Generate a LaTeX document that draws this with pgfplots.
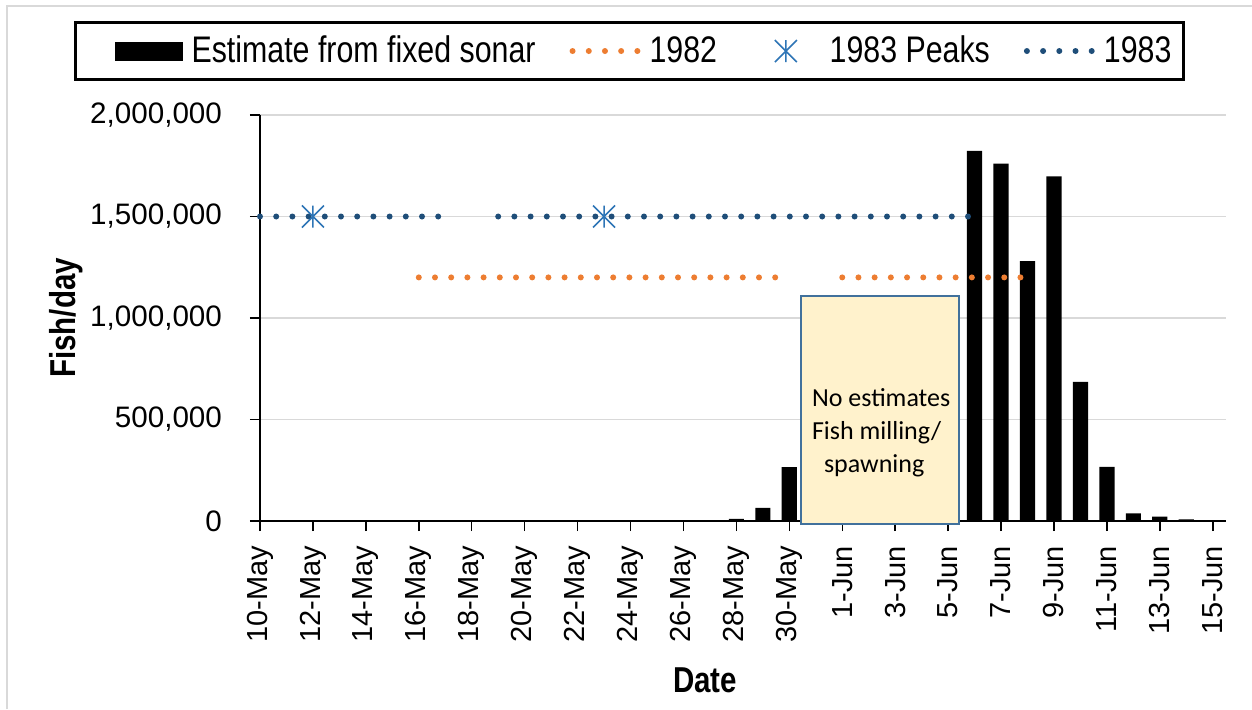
\documentclass[border=0pt]{standalone}
\usepackage{fontspec}
\setmainfont{Liberation Sans}
\newfontfamily\narrowfont[FakeStretch=0.82]{Liberation Sans}
\newfontfamily\calibri{Carlito}
\usepackage{pgfplots}
\usepackage{pgfplotstable}
\pgfplotsset{compat=1.18}

\definecolor{orange82}{RGB}{237,125,49}
\definecolor{navy83}{RGB}{31,78,121}
\definecolor{peakblue}{RGB}{46,117,182}
\definecolor{gridgray}{RGB}{217,217,217}
\definecolor{boxfill}{RGB}{255,242,204}
\definecolor{boxedge}{RGB}{65,113,156}

% Excel-style star: vertical stroke plus an X
\pgfdeclareplotmark{xstar}{%
  \pgfpathmoveto{\pgfqpoint{0pt}{\pgfplotmarksize}}%
  \pgfpathlineto{\pgfqpoint{0pt}{-\pgfplotmarksize}}%
  \pgfpathmoveto{\pgfqpoint{-\pgfplotmarksize}{-\pgfplotmarksize}}%
  \pgfpathlineto{\pgfqpoint{\pgfplotmarksize}{\pgfplotmarksize}}%
  \pgfpathmoveto{\pgfqpoint{-\pgfplotmarksize}{\pgfplotmarksize}}%
  \pgfpathlineto{\pgfqpoint{\pgfplotmarksize}{-\pgfplotmarksize}}%
  \pgfusepathqstroke}

% day 0 = 10-May
\pgfplotstableread{
day fish
18 10000
19 65000
20 265000
27 1823000
28 1761000
29 1280000
30 1698000
31 685000
32 267000
33 38000
34 21000
35 8000
}\sonar

\pgfplotstableread{
day fish
6 1200000
7 1200000
8 1200000
9 1200000
10 1200000
11 1200000
12 1200000
13 1200000
14 1200000
15 1200000
16 1200000
17 1200000
18 1200000
19 1200000
20 1200000
21 nan
22 1200000
23 1200000
24 1200000
25 1200000
26 1200000
27 1200000
28 1200000
29 1200000
}\yrA

\pgfplotstableread{
day fish
0 1500000
1 1500000
2 1500000
3 1500000
4 1500000
5 1500000
6 1500000
7 1500000
8 nan
9 1500000
10 1500000
11 1500000
12 1500000
13 1500000
14 1500000
15 1500000
16 1500000
17 1500000
18 1500000
19 1500000
20 1500000
21 1500000
22 1500000
23 1500000
24 1500000
25 1500000
26 1500000
27 1500000
}\yrB

\tikzset{rounddots/.style={line width=3pt, line cap=round, dash pattern=on 0pt off 8.1pt}}
\pgfplotsset{
  barlegend/.style={legend image code/.code={\path (-16.5pt,0pt);
    \fill[black] (0pt,-4.75pt) rectangle (34pt,4.75pt);}},
  dotlegend/.style={legend image code/.code={\draw[##1] (1.5pt,0pt) -- (34pt,0pt);}},
  starlegend/.style={legend image code/.code={\path (0pt,0pt) (34pt,0pt);
    \draw[mark repeat=2, mark phase=2, ##1] plot coordinates {(0pt,0pt) (17pt,0pt) (34pt,0pt)};}},
}

\begin{document}
\begin{tikzpicture}
\useasboundingbox (-130pt,-94pt) rectangle (496pt,260.5pt);
\draw[gridgray, line width=1pt] (-126.5pt,-94pt) -- (-126.5pt,257.5pt) -- (496pt,257.5pt);
\begin{axis}[
  scale only axis, width=483pt, height=203pt,
  xmin=0, xmax=36.5, ymin=0, ymax=2000000,
  axis x line=bottom, axis y line=left,
  axis line style={-, black, line width=0.75pt},
  xtick={0,2,...,36},
  xticklabels={10-May,12-May,14-May,16-May,18-May,20-May,22-May,24-May,26-May,28-May,30-May,1-Jun,3-Jun,5-Jun,7-Jun,9-Jun,11-Jun,13-Jun,15-Jun},
  ytick={0,500000,1000000,1500000,2000000},
  ymajorgrids, grid style={gridgray, line width=0.75pt},
  tick align=outside, major tick length=5pt,
  tick style={black, line width=0.75pt},
  scaled y ticks=false,
  yticklabel shift=10.5pt,
  yticklabel style={font=\fontsize{14.8pt}{18pt}\selectfont,
    /pgf/number format/fixed, /pgf/number format/1000 sep={,},
    /pgf/number format/assume math mode=true},
  xticklabel shift=4pt,
  xticklabel style={rotate=90, anchor=east, font=\fontsize{14.5pt}{16pt}\selectfont},
  xlabel={Date}, ylabel={Fish/day},
  xlabel style={at={(0.4607,-0.4236)}, anchor=base, font=\narrowfont\bfseries\fontsize{18pt}{20pt}\selectfont},
  ylabel style={at={(-0.1915,0.5)}, anchor=base, font=\narrowfont\bfseries\fontsize{18pt}{20pt}\selectfont},
  clip=false,
  unbounded coords=jump,
  legend columns=4,
  legend style={at={(0.3825,1.1576)}, anchor=center, draw=black, line width=1.5pt,
    font=\narrowfont\fontsize{18.5pt}{20pt}\selectfont,
    nodes={inner xsep=3pt, inner ysep=5pt},
    /tikz/every odd column/.append style={column sep=1.5pt},
    /tikz/every even column/.append style={column sep=14pt},
    /tikz/column 8/.append style={column sep=14pt}},
]
\addplot[ybar, bar width=7.6pt, fill=black, draw=none, barlegend]
  table[x=day, y=fish]{\sonar};
\addlegendentry{Estimate from fixed sonar}
\addplot[orange82, rounddots, dotlegend]
  table[x=day, y=fish]{\yrA};
\addlegendentry{1982}
\addplot[peakblue, only marks, mark=xstar, mark size=5.5pt, line width=0.8pt, starlegend]
  coordinates {(2,1500000) (13,1500000)};
\addlegendentry{1983 Peaks}
\addplot[navy83, rounddots, dotlegend]
  table[x=day, y=fish]{\yrB};
\addlegendentry{1983}
\draw[boxedge, line width=1pt, fill=boxfill] (axis cs:20.44,-15000) rectangle (axis cs:26.42,1108000);
\node[font=\calibri\fontsize{13pt}{16.5pt}\selectfont, align=left, inner sep=0pt, anchor=center]
  at (axis cs:23.47,433000) {No estimates\\Fish milling/\\\hspace*{6pt}spawning};
\end{axis}
\end{tikzpicture}
\end{document}
